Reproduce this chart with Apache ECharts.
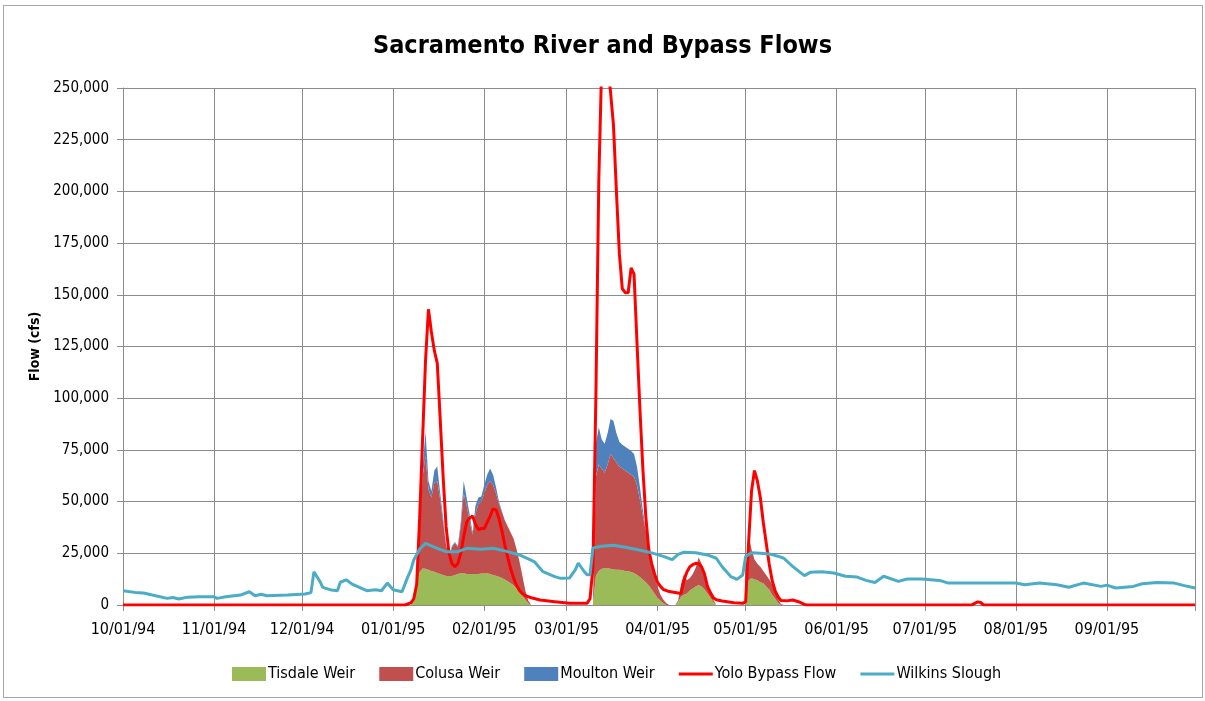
<!DOCTYPE html>
<html>
<head>
<meta charset="utf-8">
<title>Sacramento River and Bypass Flows</title>
<script src="https://cdn.jsdelivr.net/npm/echarts@6/dist/echarts.min.js"></script>
<style>
  html, body { margin: 0; padding: 0; background: #fff; }
  #main { width: 1205px; height: 701px; }
  #frame { position: absolute; left: 3px; top: 5px; width: 1198px; height: 691px;
           border: 1px solid #a6a6a6; pointer-events: none; }
</style>
</head>
<body>
<div id="main"></div>
<div id="frame"></div>
<script>
// x positions are day offsets from 10/01/94 (one category per day)
var monthTicks = ['10/01/94', '11/01/94', '12/01/94', '01/01/95', '02/01/95', '03/01/95',
  '04/01/95', '05/01/95', '06/01/95', '07/01/95', '08/01/95', '09/01/95'];

// weir spills (cfs), same days for the three stacked areas
var weirDays = [
  97, 98, 99, 100, 101, 102, 103, 104, 105, 106, 107, 108, 109, 110, 111, 112, 113, 114, 115, 116,
  117, 118, 119, 120, 121, 122, 123, 124, 125, 126, 127, 128, 129, 130, 131, 132, 133, 134, 135, 136,
  137, 138, 139,
  159, 160, 161, 162, 163, 164, 165, 166, 167, 168, 169, 170, 171, 172, 173, 174, 175, 176, 177, 178,
  179, 180, 181, 182, 183, 184, 185, 186,
  188, 189, 190, 191, 192, 193, 194, 195, 196, 197, 198, 199, 200, 201, 202,
  212, 213, 214, 215, 216, 217, 218, 219, 220, 221, 222, 223, 224, 225
];
var tisdale = [
  0, 0, 3000, 9000, 16000, 17700, 17500, 17000, 16500, 16100, 15500, 15000, 14500, 14000, 14000, 14000, 14500, 15000, 15300, 15300,
  15000, 15000, 15000, 15000, 15000, 15200, 15300, 15300, 15000, 14500, 14200, 13700, 13000, 12300, 11500, 10500, 9500, 8000, 6400, 4500,
  2500, 800, 0,
  0, 0, 14000, 16500, 17500, 17800, 17800, 17500, 17200, 17000, 17000, 16800, 16500, 16300, 16000, 15500, 14600, 13500, 12300, 11000,
  9500, 7500, 5500, 3500, 2000, 800, 0, 0,
  0, 1500, 4000, 5000, 5600, 7000, 8000, 9000, 9700, 9000, 7500, 5600, 3500, 1500, 0,
  0, 12000, 12900, 12500, 12000, 11000, 10500, 9000, 7500, 5000, 3200, 1000, 0, 0
];
var colusa = [
  0, 0, 1000, 3000, 19000, 44300, 54500, 39000, 35500, 42900, 44500, 36000, 25500, 15000, 9000, 14000, 15500, 13000, 22700, 38700,
  33000, 26000, 19000, 29000, 34000, 34800, 38700, 42700, 45000, 43500, 39800, 35300, 32000, 28700, 26500, 24500, 22500, 19000, 14600, 9500,
  4500, 1200, 0,
  0, 0, 48000, 51500, 48500, 46200, 50200, 55500, 53800, 52000, 50000, 49200, 48500, 47700, 47000, 46500, 43400, 37500, 30700, 25000,
  19500, 13500, 8500, 5500, 3000, 1700, 800, 0,
  0, 500, 6000, 10000, 6400, 6000, 7000, 9000, 13300, 11000, 7500, 4400, 2500, 1000, 0,
  0, 22000, 14100, 9500, 8000, 7500, 6000, 5500, 5000, 5000, 4100, 1800, 500, 0
];
var moulton = [
  0, 0, 0, 0, 1000, 4000, 12000, 4000, 3000, 6000, 7000, 3000, 2000, 500, 500, 500, 500, 500, 2000, 6000,
  4000, 3000, 1000, 4000, 3000, 2500, 4000, 5000, 6000, 5000, 3000, 1000, 500, 0, 0, 0, 0, 0, 0, 0,
  0, 0, 0,
  0, 0, 16000, 18000, 14000, 14000, 15000, 17000, 18000, 14000, 12000, 11500, 11500, 11500, 11500, 11000, 9000, 6000, 3000, 500,
  0, 0, 0, 0, 0, 0, 0, 0,
  0, 0, 0, 0, 0, 0, 0, 0, 0, 0, 0, 0, 0, 0, 0,
  0, 0, 0, 0, 0, 0, 0, 0, 0, 0, 0, 0, 0, 0
];

// Yolo Bypass (cfs)
var yoloDays = [
  0, 96, 98, 99, 100, 101, 102, 103, 104, 105, 106, 107, 108, 109, 110, 111, 112, 113, 114, 115,
  116, 117, 118, 119, 120, 121, 122, 123, 124, 125, 126, 127, 128, 129, 130, 131, 132, 133, 134, 135,
  136, 137, 139, 142, 147, 152, 158, 159, 160, 161, 162, 163, 164, 165, 166, 167, 168, 169, 170, 171,
  172, 173, 174, 175, 176, 177, 178, 179, 180, 181, 182, 183, 184, 186, 190, 191, 192, 193, 194, 195,
  196, 197, 198, 199, 200, 201, 202, 204, 208, 211, 212, 213, 214, 215, 216, 217, 218, 219, 220, 221,
  222, 223, 224, 226, 228, 230, 232, 233, 289, 290, 291, 292, 293, 365
];
var yoloFlow = [
  0, 0, 1000, 3000, 10000, 42000, 80000, 118000, 143000, 132000, 123000, 117000, 90000, 62000, 38000, 25000, 20000, 18500, 20000, 25000,
  33000, 40000, 42000, 43000, 39000, 36500, 37000, 37000, 40000, 43000, 46500, 46000, 42000, 36000, 29000, 23000, 17500, 13000, 9500, 7000,
  5500, 4500, 3500, 2400, 1600, 800, 800, 3000, 18000, 100000, 205000, 262000, 266000, 262000, 248000, 232000, 200000, 170000, 153000, 151000,
  151000, 163000, 160000, 127000, 95000, 66000, 43000, 27000, 20000, 15000, 11000, 9000, 7500, 6500, 5600, 12000, 16000, 18500, 19500, 20200,
  20000, 18500, 15000, 9000, 6000, 3500, 2500, 1900, 1100, 800, 1600, 30000, 55000, 65000, 60000, 52000, 40000, 30000, 20000, 12000,
  7000, 4000, 2200, 2000, 2400, 1600, 300, 0, 0, 800, 1500, 1200, 0, 0
];

// Wilkins Slough (cfs)
var wilkinsDays = [
  0, 4, 7, 10, 15, 17, 19, 22, 26, 31, 32, 35, 40, 43, 45, 47, 49, 56, 62, 64,
  65, 67, 68, 71, 73, 74, 76, 78, 83, 86, 88, 90, 92, 95, 97, 98, 99, 101, 103, 107,
  110, 114, 117, 122, 126, 131, 135, 140, 143, 147, 149, 152, 154, 155, 157, 158, 159, 160, 163, 167,
  171, 175, 180, 184, 187, 189, 191, 195, 199, 202, 204, 207, 209, 211, 212, 214, 217, 220, 223, 225,
  228, 232, 234, 238, 242, 246, 250, 253, 256, 259, 264, 267, 272, 278, 281, 292, 304, 307, 312, 318,
  322, 327, 333, 335, 338, 344, 347, 352, 358, 361, 365
];
var wilkinsFlow = [
  6900, 6100, 5800, 4800, 3200, 3600, 2900, 3800, 4000, 4000, 3200, 4000, 4800, 6400, 4500, 5200, 4500, 4800, 5300, 6000,
  16000, 11500, 8500, 7200, 6900, 11000, 12200, 10100, 6900, 7400, 6900, 10600, 7400, 6400, 13700, 16900, 21800, 27000, 29800, 27400,
  25800, 25800, 27400, 27000, 27400, 25800, 24200, 21000, 16100, 13700, 12900, 13000, 17000, 20300, 16200, 14600, 14600, 27600, 28400, 28900,
  27900, 26800, 25200, 23500, 21900, 24500, 25500, 25300, 24200, 22600, 18500, 13700, 12400, 14500, 23400, 25300, 25000, 24700, 23600, 22600,
  18700, 14200, 15800, 16100, 15500, 13900, 13500, 11900, 10900, 13900, 11400, 12600, 12600, 11900, 10600, 10600, 10600, 9800, 10600, 9800,
  8600, 10600, 9000, 9600, 8200, 9000, 10300, 10900, 10600, 9500, 8200
];

var FONT = '"Liberation Sans Narrow", "DejaVu Sans Condensed", "Open Sans", sans-serif';
var GRID_COLOR = '#8c8c8c';
var LINE_ICON = 'path://M0,0 L34,0 L34,3 L0,3 Z';

// one category per day, 10/01/94 .. 10/01/95
var dates = [];
var t0 = Date.UTC(1994, 9, 1);
for (var i = 0; i <= 365; i++) {
  var d = new Date(t0 + i * 86400000);
  var mm = ('0' + (d.getUTCMonth() + 1)).slice(-2);
  var dd = ('0' + d.getUTCDate()).slice(-2);
  var yy = ('' + d.getUTCFullYear()).slice(-2);
  dates.push(mm + '/' + dd + '/' + yy);
}

function pairs(xs, ys) {
  return xs.map(function (x, k) { return [x, ys[k]]; });
}
function isMonthStart(idx, val) { return val.slice(3, 5) === '01'; }

var dom = document.getElementById('main');
var myChart = echarts.init(dom);
var option = {
  animation: false,
  textStyle: { fontFamily: FONT },
  title: {
    text: 'Sacramento River and Bypass Flows',
    left: 'center',
    top: 29,
    textStyle: { fontFamily: FONT, fontSize: 25, fontWeight: 'bold', color: '#000' }
  },
  grid: { left: 123, right: 10, top: 88, bottom: 96 },
  legend: {
    top: 661,
    left: 227,
    itemWidth: 34,
    itemHeight: 14,
    itemGap: 24,
    textStyle: { fontFamily: FONT, fontSize: 16, color: '#000', padding: [0, 0, 0, -3] },
    data: [
      { name: 'Tisdale Weir', icon: 'rect' },
      { name: 'Colusa Weir', icon: 'rect' },
      { name: 'Moulton Weir', icon: 'rect' },
      { name: 'Yolo Bypass Flow', icon: LINE_ICON },
      { name: 'Wilkins Slough', icon: LINE_ICON }
    ]
  },
  xAxis: {
    type: 'category',
    data: dates,
    boundaryGap: false,
    axisLine: { lineStyle: { color: GRID_COLOR, width: 1 } },
    axisTick: { interval: isMonthStart, length: 6, lineStyle: { color: GRID_COLOR } },
    axisLabel: {
      interval: function (idx, val) { return monthTicks.indexOf(val) >= 0; },
      margin: 17,
      fontFamily: FONT,
      fontSize: 16,
      color: '#000'
    },
    splitLine: { show: true, interval: isMonthStart, lineStyle: { color: GRID_COLOR, width: 1 } }
  },
  yAxis: {
    type: 'value',
    min: 0,
    max: 250000,
    interval: 25000,
    name: 'Flow (cfs)',
    nameLocation: 'middle',
    nameRotate: 90,
    nameGap: 69,
    nameTextStyle: { fontFamily: FONT, fontSize: 14, fontWeight: 'bold', color: '#000' },
    axisLine: { show: true, lineStyle: { color: GRID_COLOR } },
    axisTick: { show: true, length: 6, lineStyle: { color: GRID_COLOR } },
    axisLabel: {
      margin: 14,
      fontFamily: FONT,
      fontSize: 15,
      color: '#000',
      formatter: function (v) { return v.toLocaleString('en-US'); }
    },
    splitLine: { show: true, lineStyle: { color: GRID_COLOR, width: 1 } }
  },
  series: [
    {
      name: 'Tisdale Weir', type: 'line', stack: 'weirs', symbol: 'none',
      lineStyle: { width: 0 }, itemStyle: { color: '#9bbb59' },
      areaStyle: { color: '#9bbb59', opacity: 1 },
      data: pairs(weirDays, tisdale)
    },
    {
      name: 'Colusa Weir', type: 'line', stack: 'weirs', symbol: 'none',
      lineStyle: { width: 0 }, itemStyle: { color: '#c0504d' },
      areaStyle: { color: '#c0504d', opacity: 1 },
      data: pairs(weirDays, colusa)
    },
    {
      name: 'Moulton Weir', type: 'line', stack: 'weirs', symbol: 'none',
      lineStyle: { width: 0 }, itemStyle: { color: '#4f81bd' },
      areaStyle: { color: '#4f81bd', opacity: 1 },
      data: pairs(weirDays, moulton)
    },
    {
      name: 'Yolo Bypass Flow', type: 'line', symbol: 'none',
      lineStyle: { color: '#ff0000', width: 3 }, itemStyle: { color: '#ff0000' },
      data: pairs(yoloDays, yoloFlow)
    },
    {
      name: 'Wilkins Slough', type: 'line', symbol: 'none',
      lineStyle: { color: '#4bacc6', width: 3 }, itemStyle: { color: '#4bacc6' },
      data: pairs(wilkinsDays, wilkinsFlow)
    }
  ]
};
myChart.setOption(option);
</script>
</body>
</html>
